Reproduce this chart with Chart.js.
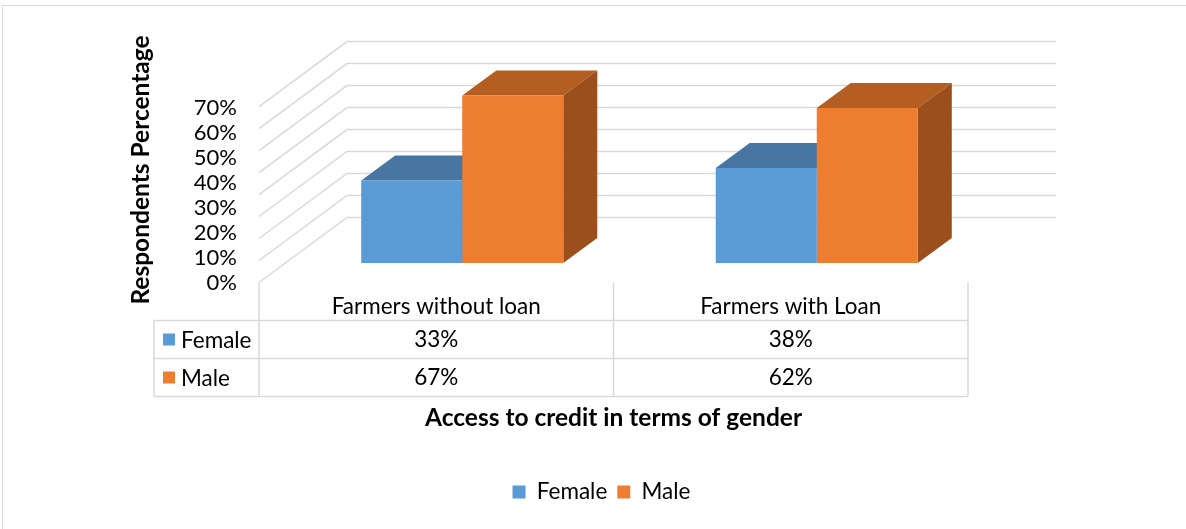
<!DOCTYPE html>
<html>
<head>
<meta charset="utf-8">
<script src="https://cdn.jsdelivr.net/npm/chart.js@4.4.0/dist/chart.umd.min.js"></script>
<style>
  html, body { margin: 0; padding: 0; background: #fff; }
  #wrap { width: 1186px; height: 529px; }
</style>
</head>
<body>
<div id="wrap"><canvas id="chart" width="1186" height="529"></canvas></div>
<script>
const categories = ['Farmers without loan', 'Farmers with Loan'];
const seriesNames = ['Female', 'Male'];
const femaleValues = [33, 38];
const maleValues = [67, 62];
const axisTicks = [0, 10, 20, 30, 40, 50, 60, 70];
const wallTicks = [0, 10, 20, 30, 40, 50, 60, 70, 80];

const FONT = 'Lato, "Open Sans", sans-serif';
const colors = {
    Female: { front: '#5B9BD5', top: '#4676A1', side: '#3E6990' },
    Male: { front: '#ED7D31', top: '#B45E22', side: '#9B4F1D' }
};
const GRID = '#D9D9D9';
const WALL_DX = 88, WALL_DY = -65;            // depth of side / back wall
const BAR_DX = 34, BAR_DY = -25;              // depth of each bar
const BAR_SHIFT_X = 26, BAR_SHIFT_Y = -19.5;  // bars stand a bit behind the floor edge

function poly(ctx, pts) {
    ctx.beginPath();
    ctx.moveTo(pts[0][0], pts[0][1]);
    pts.slice(1).forEach(p => ctx.lineTo(p[0], p[1]));
    ctx.closePath();
    ctx.fill();
}

function line(ctx, x1, y1, x2, y2) {
    ctx.beginPath();
    ctx.moveTo(x1, y1);
    ctx.lineTo(x2, y2);
    ctx.stroke();
}

// Excel style data table under the plot
function drawTable(chart) {
    const { ctx, chartArea, scales } = chart;
    const xs = scales.x;
    const colW = xs.width / categories.length;
    const left = chartArea.left;
    const right = chartArea.right;
    const keyLeft = left - 105;
    const top = chartArea.bottom;
    const rowH = 38;
    const r1 = top + rowH, r2 = r1 + rowH, r3 = r2 + rowH;
    const rows = [femaleValues, maleValues];

    ctx.save();
    ctx.strokeStyle = GRID;
    ctx.lineWidth = 1.5;
    [r1, r2, r3].forEach(y => line(ctx, keyLeft, y, right, y));
    line(ctx, keyLeft, r1, keyLeft, r3);
    line(ctx, left, top, left, r3);
    categories.forEach((c, i) => {
        const edge = xs.getPixelForValue(i) + colW / 2;
        line(ctx, edge, top, edge, r3);
    });

    ctx.fillStyle = '#000';
    ctx.font = '22.5px ' + FONT;
    ctx.textAlign = 'center';
    ctx.textBaseline = 'middle';
    categories.forEach((c, i) => {
        const cx = xs.getPixelForValue(i);
        ctx.fillText(c, cx, top + 24);
        rows.forEach((vals, j) => {
            ctx.fillText(vals[i] + '%', cx, r1 + rowH * j + rowH / 2);
        });
    });

    ctx.textAlign = 'left';
    seriesNames.forEach((name, j) => {
        const cy = r1 + rowH * j + rowH / 2;
        ctx.fillStyle = colors[name].front;
        ctx.fillRect(keyLeft + 9, cy - 6, 12, 12);
        ctx.fillStyle = '#000';
        ctx.fillText(name, keyLeft + 27, cy + 1);
    });
    ctx.restore();
}

const fake3d = {
    id: 'fake3d',
    beforeDraw(chart) {
        const ctx = chart.ctx;
        ctx.save();
        ctx.fillStyle = '#fff';
        ctx.fillRect(0, 0, chart.width, chart.height);
        ctx.strokeStyle = GRID;
        ctx.lineWidth = 1;
        ctx.strokeRect(2.5, 5.5, chart.width + 10, chart.height + 10);
        ctx.restore();
    },
    beforeDatasetsDraw(chart) {
        const { ctx, chartArea, scales } = chart;
        const wall = scales.yWall;

        ctx.save();
        ctx.strokeStyle = GRID;
        ctx.lineWidth = 1.5;
        wallTicks.forEach(v => {
            const y = wall.getPixelForValue(v);
            ctx.beginPath();
            ctx.moveTo(chartArea.left, y);
            ctx.lineTo(chartArea.left + WALL_DX, y + WALL_DY);
            ctx.lineTo(chartArea.right + WALL_DX, y + WALL_DY);
            ctx.stroke();
        });
        ctx.restore();

        // kept until afterDatasetsDraw so the fronts get the same shift
        ctx.save();
        ctx.translate(BAR_SHIFT_X, BAR_SHIFT_Y);
        chart.data.datasets.forEach((ds, i) => {
            const c = colors[ds.label];
            chart.getDatasetMeta(i).data.forEach(bar => {
                const l = bar.x - bar.width / 2, r = bar.x + bar.width / 2;
                const top = bar.y, base = bar.base;
                ctx.fillStyle = c.top;
                poly(ctx, [[l, top], [l + BAR_DX, top + BAR_DY], [r + BAR_DX, top + BAR_DY], [r, top]]);
                ctx.fillStyle = c.side;
                poly(ctx, [[r, top], [r + BAR_DX, top + BAR_DY], [r + BAR_DX, base + BAR_DY], [r, base]]);
            });
        });
    },
    afterDatasetsDraw(chart) {
        chart.ctx.restore();
        drawTable(chart);
    }
};

new Chart(document.getElementById('chart'), {
    type: 'bar',
    data: {
        labels: categories,
        datasets: [
            { label: seriesNames[0], data: femaleValues, backgroundColor: colors.Female.front },
            { label: seriesNames[1], data: maleValues, backgroundColor: colors.Male.front }
        ]
    },
    options: {
        responsive: false,
        animation: false,
        events: [],
        layout: { padding: { left: 120, right: 103, top: 57.5, bottom: 15.75 } },
        datasets: {
            bar: { barPercentage: 1, categoryPercentage: 0.57, borderWidth: 0, clip: false }
        },
        scales: {
            x: {
                grid: { display: false, drawTicks: false },
                border: { display: false },
                ticks: { display: false },
                title: {
                    display: true,
                    text: 'Access to credit in terms of gender',
                    color: '#000',
                    font: { family: FONT, size: 24.5, weight: 'bold' },
                    padding: { top: 0, bottom: 38 }
                },
                afterFit: s => { s.height = 188.25; }
            },
            y: {
                min: 0,
                max: 90,
                grid: { display: false, drawTicks: false },
                border: { display: false },
                ticks: {
                    stepSize: 10,
                    autoSkip: false,
                    padding: 22,
                    color: '#000',
                    font: { family: FONT, size: 22 },
                    callback: v => axisTicks.includes(v) ? v + '%' : ''
                },
                title: {
                    display: true,
                    text: 'Respondents Percentage',
                    color: '#000',
                    font: { family: FONT, size: 24.5, weight: 'bold' },
                    padding: { top: 6, bottom: 0 }
                },
                afterFit: s => { s.width = 139; }
            },
            // wall scale, no marks of its own; its width keeps room for the back wall
            yWall: {
                position: 'right',
                min: 0,
                max: 102.3,
                grid: { display: false, drawTicks: false },
                border: { display: false },
                ticks: { display: false },
                afterFit: s => { s.width = 115; }
            }
        },
        plugins: {
            legend: {
                position: 'bottom',
                labels: {
                    boxWidth: 13,
                    boxHeight: 13,
                    padding: 10,
                    color: '#000',
                    font: { family: FONT, size: 22.5 }
                }
            },
            tooltip: { enabled: false }
        }
    },
    plugins: [fake3d]
});
</script>
</body>
</html>
